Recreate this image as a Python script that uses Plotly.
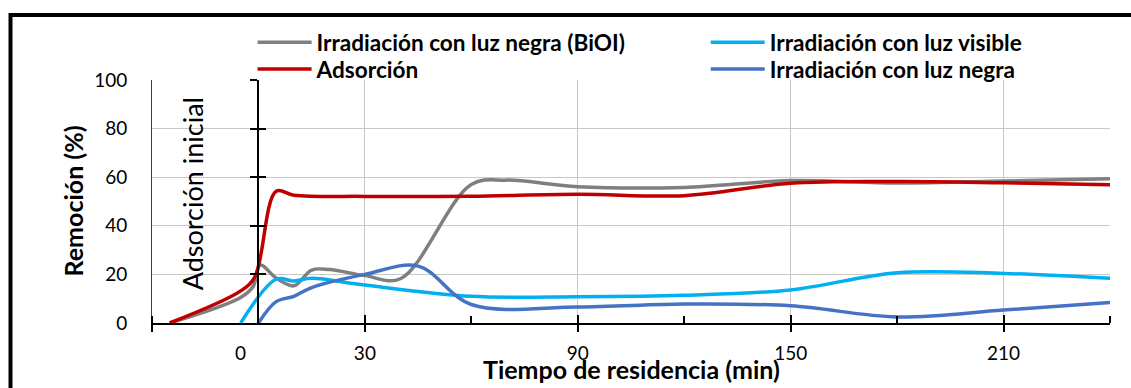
import plotly.graph_objects as go

# Removal (%) versus residence time (min)
t_biol = [-25, -5, -1.5, 0.5, 5, 10, 15, 20, 30, 40, 60, 70, 90, 120, 150, 180, 210, 240]
y_biol = [0, 10.5, 15, 23.8, 18.5, 15.3, 21.8, 22, 19.5, 18.2, 57, 58.8, 56.1, 55.8, 58.6, 57.6, 58.4, 59.4]

t_vis = [-5, 5, 10, 15, 30, 60, 90, 120, 150, 180, 210, 240]
y_vis = [0, 18, 17.3, 18.4, 15.6, 11, 10.8, 11.4, 13.6, 20.7, 20.4, 18.4]

t_ads = [-25, -5, -1, 5, 10, 30, 60, 90, 120, 150, 180, 210, 240]
y_ads = [0, 13.2, 19, 54.2, 52.6, 52.1, 52.2, 53, 52.4, 57.5, 58.2, 57.7, 56.9]

t_neg = [0, 5, 10, 15, 30, 45, 60, 90, 120, 150, 180, 210, 240]
y_neg = [0, 8.8, 11, 14.6, 20, 23.4, 7.6, 6.6, 7.8, 7.1, 2.5, 5.3, 8.4]

series_names = [
    "Irradiación con luz negra (BiOI)",
    "Irradiación con luz visible",
    "Adsorción",
    "Irradiación con luz negra",
]
series_colors = ["#7F7F7F", "#00B0F0", "#C00000", "#4472C4"]
# one legend box per series, laid out as a 2x2 grid
series_legend = ["legend", "legend2", "legend3", "legend4"]

x_range = [-30, 240]
y_range = [0, 100]
major_x = [-30, 30, 90, 150, 210]
major_x_text = ["", "30", "90", "150", "210"]
y_ticks = [0, 20, 40, 60, 80, 100]

FONT = "Lato"
GRID = "#C8C8C8"

fig = go.Figure()
for t, y, name, color, leg in zip(
    [t_biol, t_vis, t_ads, t_neg],
    [y_biol, y_vis, y_ads, y_neg],
    series_names,
    series_colors,
    series_legend,
):
    fig.add_trace(
        go.Scatter(
            x=t, y=y, name=name, mode="lines", legend=leg,
            line=dict(color=color, width=3.5, shape="spline", smoothing=1.0),
            cliponaxis=False,
        )
    )

# position of the vertical axis drawn at t = 0
zero_pos = (0 - x_range[0]) / (x_range[1] - x_range[0])

legend_style = dict(
    orientation="v", xanchor="left", yanchor="top",
    font=dict(family=FONT, size=22.6, color="black", weight="bold"),
    itemwidth=54, bgcolor="rgba(0,0,0,0)",
)
col_x = [0.105, 0.578]
row_y = [1.243, 1.132]

fig.update_layout(
    width=1131, height=388,
    margin=dict(l=152, r=21, t=80, b=65),
    paper_bgcolor="white", plot_bgcolor="white",
    font=dict(family=FONT, size=19, color="black"),
    showlegend=True,
    legend=dict(x=col_x[0], y=row_y[0], **legend_style),
    legend2=dict(x=col_x[1], y=row_y[0], **legend_style),
    legend3=dict(x=col_x[0], y=row_y[1], **legend_style),
    legend4=dict(x=col_x[1], y=row_y[1], **legend_style),
    xaxis=dict(
        range=x_range, tickmode="array", tickvals=major_x, ticktext=major_x_text,
        showgrid=True, gridcolor=GRID, gridwidth=1.3,
        zeroline=False, showline=True, linecolor="black", linewidth=2,
        ticks="outside", ticklen=7, tickwidth=2, tickcolor="black",
        ticklabelstandoff=5,
        minor=dict(ticks="inside", ticklen=7, tickwidth=1.5, tickcolor="black",
                   tick0=-30, dtick=30, showgrid=False),
    ),
    xaxis2=dict(
        range=x_range, overlaying="x", anchor="y", side="bottom",
        tickmode="array", tickvals=major_x, showticklabels=False,
        ticks="inside", ticklen=8, tickwidth=2, tickcolor="black",
        showgrid=False, zeroline=False, showline=False,
    ),
    yaxis=dict(
        range=y_range, tickmode="array", tickvals=y_ticks,
        showgrid=True, gridcolor=GRID, gridwidth=1.3,
        zeroline=False, showline=True, linecolor="#404040", linewidth=1,
        ticks="", ticklabelstandoff=20,
    ),
    yaxis2=dict(
        range=y_range, overlaying="y", anchor="free", position=zero_pos,
        tickmode="array", tickvals=y_ticks[1:], showticklabels=False,
        ticks="outside", ticklen=7, tickwidth=2, tickcolor="black",
        showgrid=False, zeroline=False, showline=True, linecolor="black", linewidth=2,
    ),
    yaxis3=dict(
        range=y_range, overlaying="y", anchor="free", position=zero_pos,
        tickmode="array", tickvals=y_ticks[1:], showticklabels=False,
        ticks="inside", ticklen=7, tickwidth=2, tickcolor="black",
        showgrid=False, zeroline=False, showline=False,
    ),
)

# empty carriers so the overlay axes are drawn
fig.add_trace(go.Scatter(x=[None], y=[None], xaxis="x2", yaxis="y2", showlegend=False, hoverinfo="skip"))
fig.add_trace(go.Scatter(x=[None], y=[None], xaxis="x2", yaxis="y3", showlegend=False, hoverinfo="skip"))

annotations = [
    dict(text="0", x=-5, xref="x", y=-0.12, yref="paper", showarrow=False,
         font=dict(family=FONT, size=19), xanchor="center", yanchor="middle"),
    dict(text="Adsorción inicial", x=-18.5, xref="x", y=53.3, yref="y", showarrow=False,
         textangle=-90, font=dict(family=FONT, size=27), xanchor="center", yanchor="middle"),
    dict(text="<b>Tiempo de residencia (min)</b>", x=0.5, xref="paper", y=-0.19, yref="paper",
         showarrow=False, font=dict(family=FONT, size=25), xanchor="center", yanchor="middle"),
    dict(text="<b>Remoción (%)</b>", x=-0.0835, xref="paper", y=0.5, yref="paper",
         showarrow=False, textangle=-90, font=dict(family=FONT, size=25),
         xanchor="center", yanchor="middle"),
]
fig.update_layout(annotations=annotations)

# outer frame of the chart
fig.add_shape(type="rect", xref="paper", yref="paper",
              x0=-0.1477, x1=1.3, y0=-0.5, y1=1.267,
              line=dict(color="black", width=4), fillcolor="rgba(0,0,0,0)", layer="above")

fig.write_html("out.html")
